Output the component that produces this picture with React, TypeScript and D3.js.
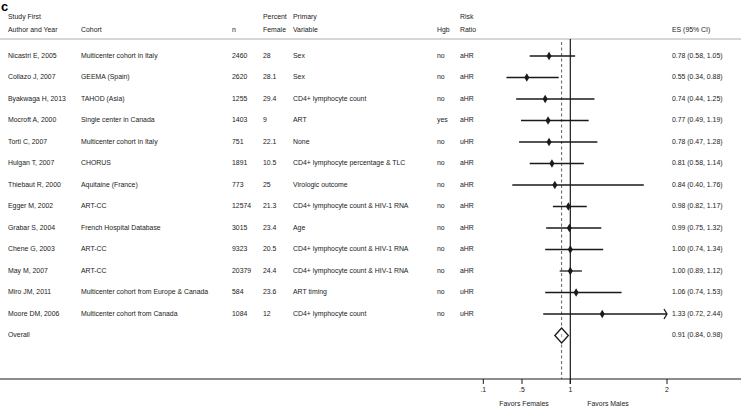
import React from "react";
import * as d3 from "d3";

const studies = [
  "Nicastri E, 2005", "Collazo J, 2007", "Byakwaga H, 2013", "Mocroft A, 2000",
  "Torti C, 2007", "Hulgan T, 2007", "Thiebaut R, 2000", "Egger M, 2002",
  "Grabar S, 2004", "Chene G, 2003", "May M, 2007", "Miro JM, 2011", "Moore DM, 2006",
];
const cohorts = [
  "Multicenter cohort in Italy", "GEEMA (Spain)", "TAHOD (Asia)", "Single center in Canada",
  "Multicenter cohort in Italy", "CHORUS", "Aquitaine (France)", "ART-CC",
  "French Hospital Database", "ART-CC", "ART-CC", "Multicenter cohort from Europe & Canada",
  "Multicenter cohort from Canada",
];
const nValues = ["2460", "2620", "1255", "1403", "751", "1891", "773", "12574", "3015", "9323", "20379", "584", "1084"];
const pctFemale = ["28", "28.1", "29.4", "9", "22.1", "10.5", "25", "21.3", "23.4", "20.5", "24.4", "23.6", "12"];
const primaryVars = [
  "Sex", "Sex", "CD4+ lymphocyte count", "ART", "None",
  "CD4+ lymphocyte percentage & TLC", "Virologic outcome", "CD4+ lymphocyte count & HIV-1 RNA",
  "Age", "CD4+ lymphocyte count & HIV-1 RNA", "CD4+ lymphocyte count & HIV-1 RNA",
  "ART timing", "CD4+ lymphocyte count",
];
const hgb = ["no", "no", "no", "yes", "no", "no", "no", "no", "no", "no", "no", "no", "no"];
const riskRatio = ["aHR", "aHR", "aHR", "aHR", "uHR", "aHR", "aHR", "aHR", "aHR", "aHR", "aHR", "uHR", "uHR"];
const es = [0.78, 0.55, 0.74, 0.77, 0.78, 0.81, 0.84, 0.98, 0.99, 1.0, 1.0, 1.06, 1.33];
const lower = [0.58, 0.34, 0.44, 0.49, 0.47, 0.58, 0.4, 0.82, 0.75, 0.74, 0.89, 0.74, 0.72];
const upper = [1.05, 0.88, 1.25, 1.19, 1.28, 1.14, 1.76, 1.17, 1.32, 1.34, 1.12, 1.53, 2.44];
const overall = { es: 0.91, lo: 0.84, hi: 0.98 };
const ticks = [0.1, 0.5, 1, 2];
const tickLabels = [".1", ".5", "1", "2"];

const W = 741;
const H = 408;
const FONT = "'Liberation Sans', Arial, Helvetica, sans-serif";
const fs = 6.9;
const ink = "#1a1a1a";

const fmt = (v: number) => v.toFixed(2);

export default function App() {
  const x = d3.scaleLinear().domain([0.1, 2]).range([483.3, 667]);
  const rows = d3.range(studies.length + 1);
  const y = d3.scalePoint<number>().domain(rows).range([56, 335.5]);
  const axisY = 379;
  const xMax = 2;
  const diamondPath = d3.symbol().type(d3.symbolDiamond).size(22)();

  const cols = { study: 8, cohort: 81, n: 232, pct: 263, prim: 293, hgb: 437, rr: 460, es: 672 };
  const h1 = 17.5;
  const h2 = 30;

  const oy = y(studies.length)!;

  return (
    <svg width={W} height={H} style={{ position: "absolute", left: 0, top: 0, background: "#fff" }}
      fontFamily={FONT} fontSize={fs} fill={ink}>
      <rect width={W} height={H} fill="#fff" />
      <text x={1} y={10.5} fontSize={13} fontWeight="bold" fill="#000">c</text>

      {/* header */}
      <g dominantBaseline="middle">
        <text x={cols.study} y={h1}>Study First</text>
        <text x={cols.study} y={h2}>Author and Year</text>
        <text x={cols.cohort} y={h2}>Cohort</text>
        <text x={cols.n} y={h2}>n</text>
        <text x={cols.pct} y={h1}>Percent</text>
        <text x={cols.pct} y={h2}>Female</text>
        <text x={cols.prim} y={h1}>Primary</text>
        <text x={cols.prim} y={h2}>Variable</text>
        <text x={cols.hgb} y={h2}>Hgb</text>
        <text x={cols.rr} y={h1}>Risk</text>
        <text x={cols.rr} y={h2}>Ratio</text>
        <text x={cols.es} y={h2}>ES (95% CI)</text>
      </g>
      <line x1={0} x2={W} y1={39} y2={39} stroke="#999" strokeWidth={0.8} />

      {/* reference lines */}
      <line x1={x(1)} x2={x(1)} y1={39} y2={axisY + 5} stroke={ink} strokeWidth={1.2} />
      <line x1={x(overall.es)} x2={x(overall.es)} y1={42} y2={axisY} stroke="#333"
        strokeWidth={0.8} strokeDasharray="3,2.5" />

      {/* rows */}
      {studies.map((s, i) => {
        const yy = y(i)!;
        const hi = Math.min(upper[i], xMax);
        const clipped = upper[i] > xMax;
        return (
          <g key={s}>
            <g dominantBaseline="middle">
              <text x={cols.study} y={yy}>{s}</text>
              <text x={cols.cohort} y={yy}>{cohorts[i]}</text>
              <text x={cols.n} y={yy}>{nValues[i]}</text>
              <text x={cols.pct} y={yy}>{pctFemale[i]}</text>
              <text x={cols.prim} y={yy}>{primaryVars[i]}</text>
              <text x={cols.hgb} y={yy}>{hgb[i]}</text>
              <text x={cols.rr} y={yy}>{riskRatio[i]}</text>
              <text x={cols.es} y={yy}>{`${fmt(es[i])} (${fmt(lower[i])}, ${fmt(upper[i])})`}</text>
            </g>
            <line x1={x(lower[i])} x2={x(hi)} y1={yy} y2={yy} stroke={ink} strokeWidth={1.3} />
            {clipped && (
              <path d={`M${x(hi) - 3},${yy - 5} L${x(hi)},${yy} L${x(hi) - 3},${yy + 5}`}
                fill="none" stroke={ink} strokeWidth={1.3} />
            )}
            <path d={diamondPath!} transform={`translate(${x(es[i])},${yy})`} fill={ink} />
          </g>
        );
      })}

      {/* overall */}
      <text x={cols.study} y={oy} dominantBaseline="middle">Overall</text>
      <text x={cols.es} y={oy} dominantBaseline="middle">
        {`${fmt(overall.es)} (${fmt(overall.lo)}, ${fmt(overall.hi)})`}
      </text>
      <path
        d={`M${x(overall.lo)},${oy} L${x(overall.es)},${oy - 7.5} L${x(overall.hi)},${oy} L${x(overall.es)},${oy + 7.5} Z`}
        fill="#fff" stroke={ink} strokeWidth={1.3} />
      <line x1={x(overall.es)} x2={x(overall.es)} y1={oy - 1.5} y2={oy + 1.5} stroke="#555" strokeWidth={0.6} />

      {/* axis */}
      <line x1={0} x2={W} y1={axisY} y2={axisY} stroke={ink} strokeWidth={1.2} />
      {ticks.map((t, i) => (
        <g key={t}>
          <line x1={x(t)} x2={x(t)} y1={axisY} y2={axisY + 5} stroke={ink} strokeWidth={1} />
          <text x={x(t)} y={axisY + 11} textAnchor="middle" dominantBaseline="middle">{tickLabels[i]}</text>
        </g>
      ))}
      <text x={524} y={404} textAnchor="middle" dominantBaseline="middle">Favors Females</text>
      <text x={608} y={404} textAnchor="middle" dominantBaseline="middle">Favors Males</text>
    </svg>
  );
}
